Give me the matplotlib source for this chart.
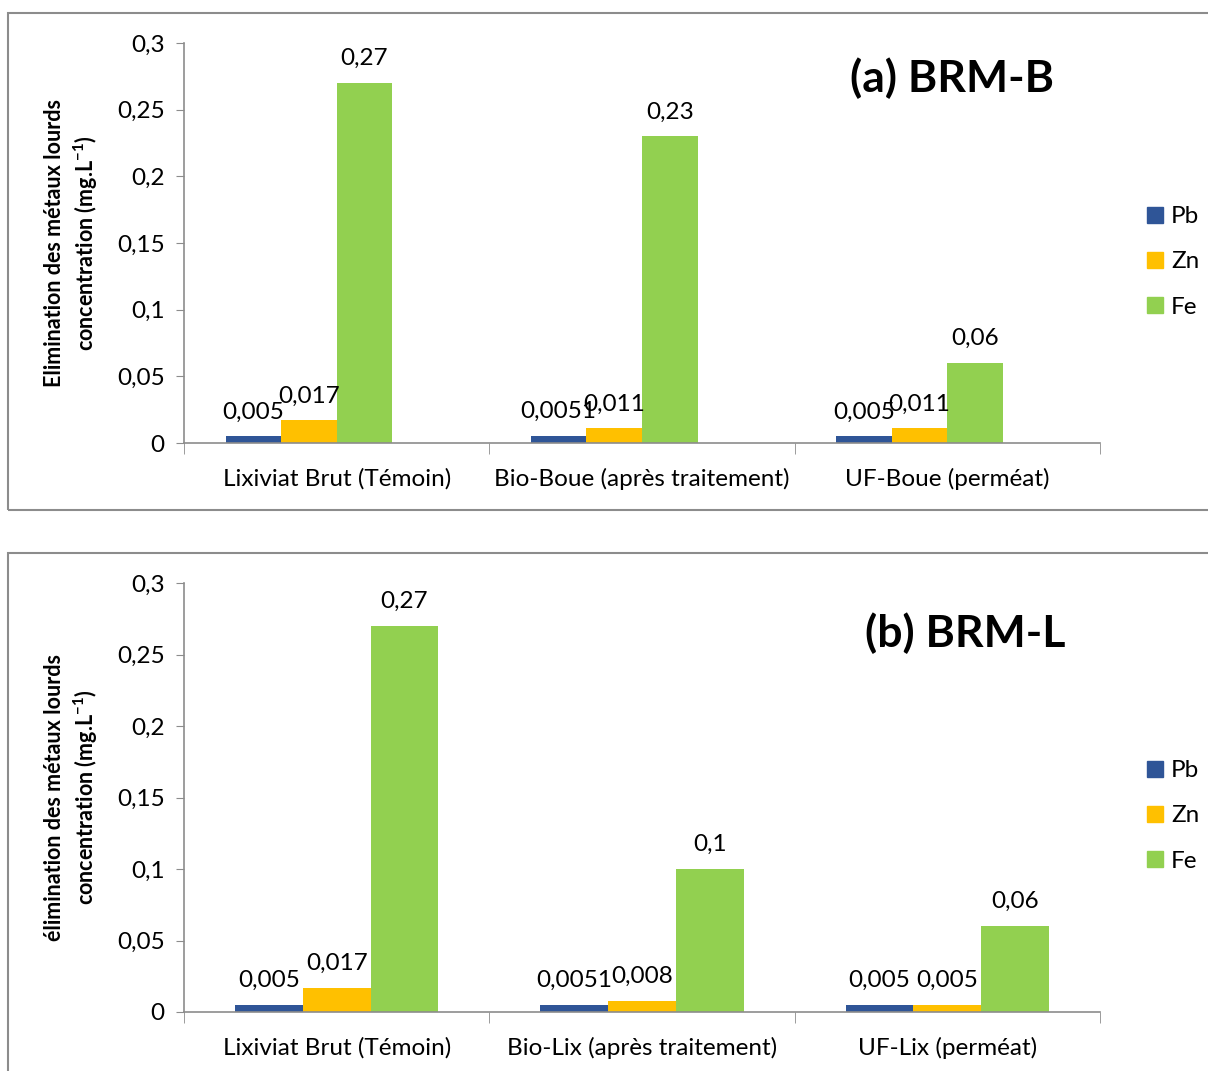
import numpy as np
import matplotlib.pyplot as plt
from matplotlib.patches import Rectangle, Patch

plt.rcParams['font.family'] = ['Lato', 'DejaVu Sans']
plt.rcParams['mathtext.fontset'] = 'custom'
plt.rcParams['mathtext.bf'] = 'Lato:bold'
plt.rcParams['mathtext.rm'] = 'Lato'

# panel (a)
cats_a = ['Lixiviat Brut (Témoin)', 'Bio-Boue (après traitement)', 'UF-Boue (perméat)']
pb_a = [0.005, 0.0051, 0.005]
zn_a = [0.017, 0.011, 0.011]
fe_a = [0.27, 0.23, 0.06]
lab_pb_a = ['0,005', '0,0051', '0,005']
lab_zn_a = ['0,017', '0,011', '0,011']
lab_fe_a = ['0,27', '0,23', '0,06']

# panel (b)
cats_b = ['Lixiviat Brut (Témoin)', 'Bio-Lix (après traitement)', 'UF-Lix (perméat)']
pb_b = [0.005, 0.0051, 0.005]
zn_b = [0.017, 0.008, 0.005]
fe_b = [0.27, 0.1, 0.06]
lab_pb_b = ['0,005', '0,0051', '0,005']
lab_zn_b = ['0,017', '0,008', '0,005']
lab_fe_b = ['0,27', '0,1', '0,06']

yticks = [0, 0.05, 0.1, 0.15, 0.2, 0.25, 0.3]
ytick_labels = ['0', '0,05', '0,1', '0,15', '0,2', '0,25', '0,3']

names = ['Pb', 'Zn', 'Fe']
colors = ['#2F5597', '#FFC000', '#92D050']
grey = '#8C8C8C'
fs = 17.5

fig = plt.figure(figsize=(12.08, 10.71), dpi=100)

# chart frames
fig.patches.append(Rectangle((8/1208, 1-510/1071), 1.1, 497/1071, transform=fig.transFigure,
                             fill=False, edgecolor=grey, linewidth=1.5))
fig.patches.append(Rectangle((8/1208, -0.1), 1.1, 1-553/1071+0.1, transform=fig.transFigure,
                             fill=False, edgecolor=grey, linewidth=1.5))


def draw_panel(rect, cats, series, labels, nslots, ylab, tag, tagpos, legy):
    ax = fig.add_axes(rect)
    x = np.arange(len(cats))
    w = 1.0 / (nslots + 1.5)
    for i, (vals, labs) in enumerate(zip(series, labels)):
        off = (i - (nslots - 1) / 2) * w
        ax.bar(x + off, vals, width=w, color=colors[i], label=names[i])
        for xi, v, t in zip(x, vals, labs):
            ax.annotate(t, (xi + off, v), xytext=(0, 10), textcoords='offset points',
                        ha='center', va='bottom', fontsize=fs)
    ax.set_xlim(-0.5, len(cats) - 0.5)
    ax.set_ylim(0, 0.3)
    ax.set_yticks(yticks)
    ax.set_yticklabels(ytick_labels, fontsize=fs)
    ax.set_xticks(x)
    ax.set_xticklabels(cats, fontsize=fs)
    ax.tick_params(axis='x', length=0, pad=18)
    ax.set_xticks(np.arange(len(cats) + 1) - 0.5, minor=True)
    ax.tick_params(axis='x', which='minor', length=8, color=grey)
    ax.tick_params(axis='y', length=6, color=grey, pad=8)
    for s in ['top', 'right']:
        ax.spines[s].set_visible(False)
    for s in ['left', 'bottom']:
        ax.spines[s].set_color(grey)
        ax.spines[s].set_linewidth(1.2)
    ax.set_ylabel(ylab, fontsize=15.5, fontweight='bold', labelpad=12, linespacing=1.3)
    fig.text(tagpos[0], tagpos[1], tag, fontsize=32, fontweight='bold', ha='center', va='center')
    handles = [Patch(color=c) for c in colors[:len(series)]]
    fig.legend(handles, names, loc='center left', bbox_to_anchor=(1125/1208, legy),
               frameon=False, fontsize=fs, handlelength=0.65, handleheight=0.65,
               handletextpad=0.35, labelspacing=1.0)
    return ax


draw_panel([184/1208, 1-443/1071, 916/1208, 400/1071], cats_a, [pb_a, zn_a, fe_a],
           [lab_pb_a, lab_zn_a, lab_fe_a], 4,
           'Elimination des métaux lourds\nconcentration (mg.L$^{\\mathbf{-1}}$)',
           '(a) BRM-B', (952/1208, 1-78/1071), 1-262/1071)

draw_panel([184/1208, 1-1012/1071, 916/1208, 429/1071], cats_b, [pb_b, zn_b, fe_b],
           [lab_pb_b, lab_zn_b, lab_fe_b], 3,
           'élimination des métaux lourds\nconcentration (mg.L$^{\\mathbf{-1}}$)',
           '(b) BRM-L', (965/1208, 1-633/1071), 1-816/1071)

fig.savefig('out.png', dpi=100)
